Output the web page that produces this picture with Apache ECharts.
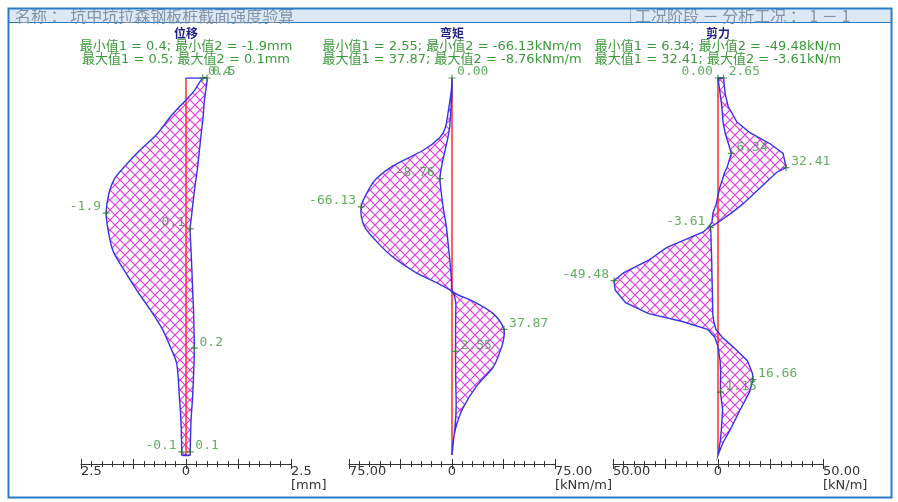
<!DOCTYPE html>
<html>
<head>
<meta charset="utf-8">
<script src="https://cdn.jsdelivr.net/npm/echarts@6/dist/echarts.min.js"></script>
<style>
html,body{margin:0;padding:0;background:#fff;}
#c{width:898px;height:502px;}
</style>
</head>
<body>
<div id="c"></div>
<script>
// ---- pile section check: envelope data (depth in m, down from pile head) ----
const pileLength = 12;

// displacement envelope [mm]
const dispDepth = [0, 0.4, 0.7, 1.2, 1.8, 2.3, 2.8, 3.2, 3.7, 4.3, 4.8, 5.5, 6.1, 6.8, 7.4, 8.0, 8.6, 9.1, 10.1, 10.9, 11.9, 12];
const dispMin   = [0.4, 0.2, 0.0, -0.35, -0.7, -1.1, -1.45, -1.7, -1.84, -1.9, -1.86, -1.74, -1.48, -1.15, -0.84, -0.56, -0.36, -0.22, -0.16, -0.12, -0.1, -0.1];
const dispMax   = [0.5, 0.47, 0.44, 0.41, 0.36, 0.32, 0.28, 0.24, 0.19, 0.14, 0.1, 0.12, 0.14, 0.16, 0.18, 0.19, 0.2, 0.19, 0.16, 0.12, 0.1, 0.1];
const dispMarks = [[0.4, 0, '0.4'], [0.5, 0, '0.5'], [-1.9, 4.3, '-1.9'], [0.1, 4.8, '0.1'], [0.2, 8.6, '0.2'], [-0.1, 11.9, '-0.1'], [0.1, 11.9, '0.1']];

// bending moment envelope [kNm/m]
const momDepth = [0, 0.4, 1.0, 1.6, 1.9, 2.3, 2.8, 3.2, 3.5, 4.1, 4.7, 5.2, 5.7, 6.2, 6.5, 6.8, 7.1, 7.5, 8.0, 8.4, 8.7, 9.2, 9.8, 10.5, 11.0, 11.5, 12];
const momMin   = [0, -0.5, -2.5, -5, -9, -21, -43, -55, -60, -66.13, -64, -55, -43, -26, -12, 0, 2.6, 2.7, 2.6, 2.6, 2.55, 2.6, 2.8, 3.0, 2.4, 1.2, 0];
const momMax   = [0, 0, -0.8, -1.8, -3, -5, -7.5, -8.76, -8.2, -6.5, -4.2, -3, -1.8, -0.8, -0.3, 0.5, 15, 30, 37.87, 37.2, 35, 30, 18, 8, 3.6, 1, 0];
const momMarks = [[0, 0, '0.00'], [-8.76, 3.2, '-8.76'], [-66.13, 4.1, '-66.13'], [37.87, 8.0, '37.87'], [2.55, 8.7, '2.55']];

// shear force envelope [kN/m]
const shearDepth = [0, 0.5, 0.9, 1.4, 1.75, 2.1, 2.4, 2.85, 3.0, 3.5, 4.0, 4.3, 4.6, 4.75, 4.9, 5.4, 5.8, 6.2, 6.45, 6.75, 7.15, 7.5, 7.75, 8.0, 8.25, 8.55, 9.0, 9.4, 9.6, 10.0, 10.55, 11.2, 11.6, 12];
const shearMin   = [0, 1, 1.8, 2.4, 3.4, 5, 6.34, 4.3, 3.2, 0.8, -0.8, -2.4, -2.9, -4.5, -7, -24.5, -33, -45, -49.48, -49, -44, -33, -17, -5, -1.5, 0, 1, 1.3, 1.2, 1.15, 2.2, 1.6, 1, 0];
const shearMax   = [2.65, 3.4, 4.8, 9, 15.4, 25, 31, 32.41, 28, 20, 12, 6.3, 0, -3.61, -3.4, -3.2, -3, -2.9, -2.8, -2.7, -2.6, -2.5, -2, -1, 2, 7, 14, 16.4, 16.66, 15, 10.6, 5.8, 2.4, 0];
const shearMarks = [[0, 0, '0.00'], [2.65, 0, '2.65'], [6.34, 2.4, '6.34'], [32.41, 2.85, '32.41'], [-3.61, 4.75, '-3.61'], [-49.48, 6.45, '-49.48'], [16.66, 9.6, '16.66'], [1.15, 10.0, '1.15']];

// axis ranges and the tick labels shown at min / zero / max
const dispRange  = [-2.5, 2.5];
const momRange   = [-75, 75];
const shearRange = [-50, 50];
const dispTickLabels  = ['2.5', '0', '2.5'];
const momTickLabels   = ['75.00', '0', '75.00'];
const shearTickLabels = ['50.00', '0', '50.00'];

const panelTitles = ['位移', '弯矩', '剪力'];
const panelUnits  = ['[mm]', '[kNm/m]', '[kN/m]'];
const dispStats  = ['最小值1 = 0.4; 最小值2 = -1.9mm', '最大值1 = 0.5; 最大值2 = 0.1mm'];
const momStats   = ['最小值1 = 2.55; 最小值2 = -66.13kNm/m', '最大值1 = 37.87; 最大值2 = -8.76kNm/m'];
const shearStats = ['最小值1 = 6.34; 最小值2 = -49.48kN/m', '最大值1 = 32.41; 最大值2 = -3.61kN/m'];

const headerTitle = '名称 ： 坑中坑拉森钢板桩截面强度验算';
const headerCase  = '工况阶段 － 分析工况 ： 1 － 1';

// ---- drawing ----
const GREEN = '#3a9a3a';
const BLUE = '#3434e4';
const RED = '#ff2b2b';
const FRAME = '#2b7cc6';

function hatchTile() {
  const s = 10;
  const c = document.createElement('canvas');
  c.width = s; c.height = s;
  const g = c.getContext('2d');
  g.strokeStyle = '#e23ae2';
  g.lineWidth = 1.2;
  g.beginPath();
  g.moveTo(-1, -1); g.lineTo(s + 1, s + 1);
  g.moveTo(s + 1, -1); g.lineTo(-1, s + 1);
  g.stroke();
  return c;
}
const hatch = { image: hatchTile(), repeat: 'repeat' };

// smooth: curvature used when drawing the envelope (shear keeps its kinks)
const panels = [
  { depth: dispDepth, lo: dispMin, hi: dispMax, marks: dispMarks, range: dispRange, ticks: dispTickLabels, stats: dispStats, left: 81, width: 210, smooth: 0.3, leftLabelled: ['0.1@4.8'] },
  { depth: momDepth, lo: momMin, hi: momMax, marks: momMarks, range: momRange, ticks: momTickLabels, stats: momStats, left: 349, width: 206, smooth: 0.3, leftLabelled: [] },
  { depth: shearDepth, lo: shearMin, hi: shearMax, marks: shearMarks, range: shearRange, ticks: shearTickLabels, stats: shearStats, left: 613, width: 210, smooth: 0, leftLabelled: ['0.00@0'] }
];

const grids = [], xAxes = [], yAxes = [], series = [];

panels.forEach((p, i) => {
  grids.push({ left: p.left, width: p.width, top: 78, height: 377 });
  yAxes.push({ type: 'value', gridIndex: i, inverse: true, min: 0, max: pileLength, show: false });
  const step = (p.range[1] - p.range[0]) / 4;
  const base = {
    type: 'value', gridIndex: i, position: 'bottom', offset: 9,
    min: p.range[0], max: p.range[1], interval: step,
    splitLine: { show: false }
  };
  // ticks below the axis line, with end / zero labels
  xAxes.push(Object.assign({}, base, {
    axisLine: { show: true, onZero: false, lineStyle: { color: '#333', width: 1 } },
    axisTick: { show: true, inside: false, length: 5, lineStyle: { color: '#333' } },
    minorTick: { show: true, splitNumber: 5, length: 3, lineStyle: { color: '#333' } },
    axisLabel: {
      show: true, margin: 1, fontSize: 13, fontFamily: 'DejaVu Sans', color: '#333',
      align: 'center', alignMinLabel: 'left', alignMaxLabel: 'left',
      showMinLabel: true, showMaxLabel: true,
      formatter: v => v === p.range[0] ? p.ticks[0] : (v === 0 ? p.ticks[1] : (v === p.range[1] ? p.ticks[2] : ''))
    }
  }));
  // ticks above the axis line
  xAxes.push(Object.assign({}, base, {
    axisLine: { show: false, onZero: false },
    axisTick: { show: true, inside: true, length: 5, lineStyle: { color: '#333' } },
    minorTick: { show: true, splitNumber: 5, length: 3, lineStyle: { color: '#333' } },
    axisLabel: { show: false }
  }));

  const xi = 2 * i;
  const envelopePoints = api => {
    const pts = [];
    for (let k = 0; k < p.depth.length; k++) pts.push(api.coord([p.lo[k], p.depth[k]]));
    for (let k = p.depth.length - 1; k >= 0; k--) pts.push(api.coord([p.hi[k], p.depth[k]]));
    return pts;
  };
  // hatched envelope between the min and max curves
  series.push({
    type: 'custom', xAxisIndex: xi, yAxisIndex: i, silent: true, z: 1,
    data: [[0, 0]],
    renderItem: (params, api) => ({
      type: 'polygon', shape: { points: envelopePoints(api), smooth: p.smooth },
      style: { fill: hatch, stroke: null }
    })
  });
  // pile axis
  series.push({
    type: 'line', xAxisIndex: xi, yAxisIndex: i, silent: true, z: 2,
    data: [[0, 0], [0, pileLength]], symbol: 'none',
    lineStyle: { color: RED, width: 1.5 }
  });
  // envelope outline
  series.push({
    type: 'custom', xAxisIndex: xi, yAxisIndex: i, silent: true, z: 3,
    data: [[0, 0]],
    renderItem: (params, api) => ({
      type: 'polygon', shape: { points: envelopePoints(api), smooth: p.smooth },
      style: { fill: null, stroke: BLUE, lineWidth: 1.4 }
    })
  });
  // closing line at the pile head
  series.push({
    type: 'line', xAxisIndex: xi, yAxisIndex: i, silent: true, z: 3,
    data: [[0, 0], [Math.max(p.lo[0], p.hi[0]), 0]], symbol: 'none',
    lineStyle: { color: BLUE, width: 1.4 }
  });
  // extreme value marks
  series.push({
    type: 'scatter', xAxisIndex: xi, yAxisIndex: i, silent: true, z: 5,
    symbol: 'path://M5,0L5,10M0,5L10,5', symbolSize: 7,
    itemStyle: { color: 'rgba(0,0,0,0)', borderColor: '#2d7d2d', borderWidth: 1.2 },
    data: p.marks.map(m => {
      const onLeft = m[0] < 0 || p.leftLabelled.indexOf(m[2] + '@' + m[1]) >= 0;
      return {
        value: [m[0], m[1]],
        label: {
          show: true, formatter: m[2], position: onLeft ? 'left' : 'right', distance: 1,
          offset: [0, -6], fontSize: 13, fontFamily: 'DejaVu Sans Mono', color: GREEN
        }
      };
    })
  });
});

const chart = echarts.init(document.getElementById('c'));
chart.setOption({
  animation: false,
  backgroundColor: '#fff',
  grid: grids, xAxis: xAxes, yAxis: yAxes, series: series
});

// frame, header bar and per-panel texts placed from the axis scales
const g = [
  { type: 'rect', shape: { x: 9, y: 9, width: 882, height: 13 }, style: { fill: '#dce8f5' }, z: 10 },
  { type: 'line', shape: { x1: 9, y1: 22.5, x2: 891, y2: 22.5 }, style: { stroke: FRAME, lineWidth: 1 }, z: 11 },
  { type: 'line', shape: { x1: 630.5, y1: 9, x2: 630.5, y2: 22 }, style: { stroke: '#9db4cf', lineWidth: 1 }, z: 11 },
  { type: 'text', x: 15, y: 16, style: { text: headerTitle, font: '16px "Noto Sans CJK SC"', fill: '#8293aa', verticalAlign: 'middle' }, z: 12 },
  { type: 'text', x: 635, y: 16, style: { text: headerCase, font: '16px "Noto Sans CJK SC"', fill: '#8293aa', verticalAlign: 'middle' }, z: 12 },
  { type: 'rect', shape: { x: 8.5, y: 8.5, width: 883, height: 489 }, style: { fill: null, stroke: FRAME, lineWidth: 2 }, z: 20 }
];
panels.forEach((p, i) => {
  const x0 = chart.convertToPixel({ xAxisIndex: 2 * i }, 0);
  const x1 = chart.convertToPixel({ xAxisIndex: 2 * i }, p.range[1]);
  g.push({ type: 'text', x: x0, y: 33, style: { text: panelTitles[i], font: 'bold 12px "Noto Sans CJK SC"', fill: '#1e1e8a', align: 'center', verticalAlign: 'middle' }, z: 12 });
  g.push({ type: 'text', x: x0, y: 46.5, style: { text: p.stats[0], font: '13px "DejaVu Sans", "Noto Sans CJK SC"', fill: GREEN, align: 'center', verticalAlign: 'middle' }, z: 12 });
  g.push({ type: 'text', x: x0, y: 59.5, style: { text: p.stats[1], font: '13px "DejaVu Sans", "Noto Sans CJK SC"', fill: GREEN, align: 'center', verticalAlign: 'middle' }, z: 12 });
  g.push({ type: 'text', x: x1, y: 486, style: { text: panelUnits[i], font: '13px "DejaVu Sans"', fill: '#333', align: 'left', verticalAlign: 'middle' }, z: 12 });
});
chart.setOption({ graphic: g });
</script>
</body>
</html>
